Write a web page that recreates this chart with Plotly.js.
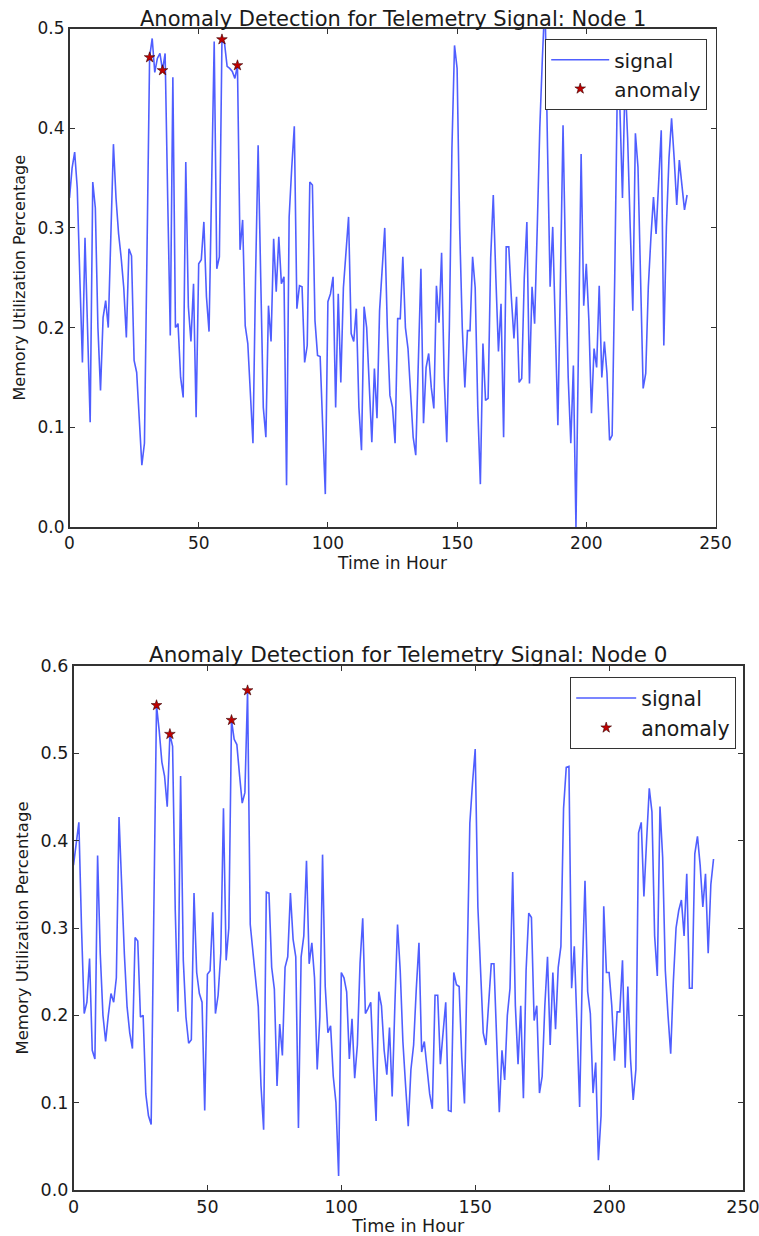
<!DOCTYPE html>
<html>
<head>
<meta charset="utf-8">
<script src="https://cdn.plot.ly/plotly-3.0.1.min.js"></script>
<style>
  html, body { margin: 0; padding: 0; background: #ffffff; }
  #chart { width: 759px; height: 1236px; }
</style>
</head>
<body>
<div id="chart"></div>
<script>
// ---------------- DATA ----------------
// Hour index of each sample (0 .. 239)
const hours = Array.from({length: 240}, (_, i) => i);

// Node 1 memory utilization
const node1Signal = [
  0.330,0.360,0.376,0.340,0.250,0.165,0.290,0.200,0.105,0.346,
  0.320,0.200,0.137,0.210,0.227,0.200,0.300,0.384,0.330,0.294,
  0.270,0.240,0.190,0.279,0.272,0.167,0.155,0.110,0.062,0.084,
  0.300,0.471,0.490,0.456,0.470,0.475,0.458,0.475,0.330,0.192,
  0.451,0.200,0.204,0.150,0.130,0.366,0.221,0.186,0.244,0.110,
  0.264,0.268,0.306,0.231,0.196,0.340,0.487,0.259,0.271,0.489,
  0.485,0.462,0.460,0.457,0.450,0.463,0.278,0.308,0.202,0.184,
  0.130,0.084,0.250,0.383,0.250,0.120,0.090,0.222,0.186,0.289,
  0.236,0.291,0.244,0.251,0.042,0.311,0.360,0.402,0.219,0.242,
  0.241,0.165,0.182,0.346,0.343,0.207,0.172,0.171,0.100,0.033,
  0.226,0.234,0.251,0.120,0.234,0.145,0.240,0.280,0.311,0.194,
  0.186,0.219,0.120,0.077,0.221,0.200,0.140,0.085,0.159,0.109,
  0.217,0.260,0.300,0.200,0.132,0.120,0.084,0.209,0.209,0.271,
  0.200,0.179,0.130,0.090,0.072,0.180,0.259,0.104,0.160,0.174,
  0.140,0.119,0.242,0.205,0.275,0.150,0.085,0.200,0.380,0.483,
  0.460,0.300,0.200,0.140,0.197,0.197,0.271,0.240,0.120,0.043,
  0.184,0.127,0.129,0.270,0.333,0.250,0.176,0.224,0.090,0.281,
  0.281,0.230,0.189,0.231,0.145,0.149,0.250,0.306,0.144,0.241,
  0.204,0.298,0.400,0.470,0.530,0.380,0.241,0.301,0.207,0.102,
  0.250,0.403,0.260,0.150,0.084,0.162,0.000,0.190,0.374,0.222,
  0.264,0.207,0.114,0.179,0.160,0.242,0.150,0.186,0.154,0.087,
  0.092,0.250,0.440,0.420,0.330,0.450,0.390,0.300,0.217,0.395,
  0.361,0.250,0.139,0.154,0.241,0.290,0.331,0.294,0.350,0.398,
  0.182,0.301,0.370,0.410,0.370,0.323,0.368,0.340,0.318,0.333
];

// Node 0 memory utilization
const node0Signal = [
  0.372,0.400,0.421,0.300,0.202,0.215,0.265,0.160,0.150,0.383,
  0.270,0.200,0.170,0.200,0.225,0.215,0.243,0.427,0.344,0.270,
  0.210,0.180,0.162,0.289,0.285,0.198,0.200,0.110,0.085,0.075,
  0.320,0.555,0.526,0.490,0.474,0.439,0.522,0.508,0.320,0.204,
  0.474,0.263,0.198,0.168,0.172,0.340,0.249,0.225,0.215,0.091,
  0.247,0.251,0.318,0.202,0.223,0.271,0.437,0.263,0.300,0.538,
  0.516,0.510,0.475,0.443,0.455,0.572,0.304,0.275,0.240,0.210,
  0.120,0.069,0.341,0.340,0.255,0.230,0.119,0.190,0.154,0.255,
  0.267,0.340,0.287,0.267,0.071,0.267,0.291,0.377,0.259,0.283,
  0.243,0.138,0.198,0.384,0.233,0.180,0.188,0.130,0.100,0.016,
  0.249,0.243,0.227,0.150,0.196,0.128,0.166,0.260,0.311,0.202,
  0.208,0.215,0.140,0.079,0.227,0.211,0.160,0.132,0.186,0.107,
  0.211,0.304,0.251,0.170,0.120,0.073,0.138,0.166,0.230,0.283,
  0.158,0.170,0.140,0.110,0.093,0.223,0.223,0.144,0.180,0.215,
  0.091,0.090,0.249,0.235,0.233,0.150,0.099,0.250,0.420,0.466,
  0.505,0.324,0.251,0.180,0.166,0.220,0.259,0.259,0.180,0.089,
  0.160,0.126,0.200,0.231,0.364,0.211,0.144,0.211,0.105,0.251,
  0.317,0.312,0.194,0.211,0.111,0.130,0.211,0.267,0.166,0.249,
  0.184,0.255,0.279,0.437,0.484,0.485,0.231,0.279,0.190,0.095,
  0.250,0.354,0.227,0.202,0.111,0.146,0.034,0.085,0.325,0.249,
  0.249,0.211,0.148,0.204,0.204,0.263,0.140,0.233,0.150,0.103,
  0.138,0.409,0.421,0.336,0.400,0.460,0.433,0.291,0.245,0.439,
  0.381,0.251,0.200,0.156,0.239,0.300,0.320,0.332,0.291,0.362,
  0.231,0.231,0.385,0.405,0.372,0.324,0.362,0.271,0.350,0.379
];

// Hours flagged as anomalies
const node1AnomalyHours = [31, 36, 59, 65];
const node0AnomalyHours = [31, 36, 59, 65];

// Titles / labels
const node1Title = "Anomaly Detection for Telemetry Signal: Node 1";
const node0Title = "Anomaly Detection for Telemetry Signal: Node 0";
const xLabel = "Time in Hour";
const yLabel = "Memory Utilization Percentage";
const signalName = "signal";
const anomalyName = "anomaly";
const xTicks = [0, 50, 100, 150, 200, 250];
const yTicksTop = [0.0, 0.1, 0.2, 0.3, 0.4, 0.5];
const yTicksBottom = [0.0, 0.1, 0.2, 0.3, 0.4, 0.5, 0.6];

// ---------------- STYLE ----------------
const W = 759, H = 1236;
const FONT = "DejaVu Sans, Liberation Sans, sans-serif";
const TXT = "#1a1a1a";
const LINE = "rgba(20,40,255,0.75)";
const STAR = "#c00000";

function px2fx(px) { return px / W; }
function px2fy(py) { return 1 - py / H; }

// plot boxes (pixels)
const topBox = {l: 69.5, r: 715.5, t: 28.5, b: 527};
const botBox = {l: 73.5, r: 743, t: 666, b: 1190};

const starMarker = {symbol: "star", size: 8, color: STAR, line: {color: "#3a0000", width: 0.6}};

const traces = [
  {x: hours, y: node1Signal, type: "scatter", mode: "lines", name: signalName,
   xaxis: "x", yaxis: "y", legend: "legend",
   line: {color: LINE, width: 1.6}},
  {x: node1AnomalyHours, y: node1AnomalyHours.map(h => node1Signal[h]), type: "scatter",
   mode: "markers", name: anomalyName, xaxis: "x", yaxis: "y", legend: "legend",
   marker: starMarker},
  {x: hours, y: node0Signal, type: "scatter", mode: "lines", name: signalName,
   xaxis: "x2", yaxis: "y2", legend: "legend2",
   line: {color: LINE, width: 1.6}},
  {x: node0AnomalyHours, y: node0AnomalyHours.map(h => node0Signal[h]), type: "scatter",
   mode: "markers", name: anomalyName, xaxis: "x2", yaxis: "y2", legend: "legend2",
   marker: starMarker}
];

function axisBase(extra) {
  return Object.assign({
    showgrid: false, zeroline: false,
    showline: true, linecolor: "#333333", linewidth: 1.6, mirror: "ticks",
    ticks: "inside", ticklen: 5, tickwidth: 1, tickcolor: "#333333",
    tickfont: {family: FONT, size: 17, color: TXT},
    ticklabeloverflow: "allow",
    fixedrange: true
  }, extra);
}

const layout = {
  width: W, height: H,
  margin: {l: 0, r: 0, t: 0, b: 0},
  paper_bgcolor: "#ffffff", plot_bgcolor: "#ffffff",
  font: {family: FONT, color: TXT},
  xaxis: axisBase({
    domain: [px2fx(topBox.l), px2fx(topBox.r)], range: [0, 250], anchor: "y",
    tickvals: xTicks, ticktext: xTicks.map(String),
    title: {text: xLabel, font: {family: FONT, size: 17, color: TXT}, standoff: 5}
  }),
  yaxis: axisBase({
    domain: [px2fy(topBox.b), px2fy(topBox.t)], range: [0, 0.5], anchor: "x",
    tickvals: yTicksTop, ticktext: yTicksTop.map(v => v.toFixed(1)),
    title: {text: yLabel, font: {family: FONT, size: 16, color: TXT}, standoff: 8}
  }),
  xaxis2: axisBase({
    domain: [px2fx(botBox.l), px2fx(botBox.r)], range: [0, 250], anchor: "y2",
    tickvals: xTicks, ticktext: xTicks.map(String),
    tickfont: {family: FONT, size: 17.5, color: TXT},
    title: {text: xLabel, font: {family: FONT, size: 17.5, color: TXT}, standoff: 4}
  }),
  yaxis2: axisBase({
    domain: [px2fy(botBox.b), px2fy(botBox.t)], range: [0, 0.6], anchor: "x2",
    tickvals: yTicksBottom, ticktext: yTicksBottom.map(v => v.toFixed(1)),
    tickfont: {family: FONT, size: 17.5, color: TXT},
    title: {text: yLabel, font: {family: FONT, size: 16.5, color: TXT}, standoff: 8}
  }),
  legend: {
    x: px2fx(707), y: px2fy(39), xanchor: "right", yanchor: "top",
    bgcolor: "#ffffff", bordercolor: "#333333", borderwidth: 1.2,
    font: {family: FONT, size: 20, color: TXT}, itemwidth: 58
  },
  legend2: {
    x: px2fx(736), y: px2fy(677), xanchor: "right", yanchor: "top",
    bgcolor: "#ffffff", bordercolor: "#333333", borderwidth: 1.2,
    font: {family: FONT, size: 20.5, color: TXT}, itemwidth: 60
  },
  annotations: [
    {text: node1Title, xref: "paper", yref: "paper",
     x: px2fx((topBox.l + topBox.r) / 2), y: px2fy(topBox.t + 5),
     xanchor: "center", yanchor: "bottom", showarrow: false,
     font: {family: FONT, size: 21, color: TXT}},
    {text: node0Title, xref: "paper", yref: "paper",
     x: px2fx((botBox.l + botBox.r) / 2), y: px2fy(botBox.t + 3),
     xanchor: "center", yanchor: "bottom", showarrow: false,
     font: {family: FONT, size: 21.5, color: TXT}}
  ],
  showlegend: true
};

Plotly.newPlot("chart", traces, layout, {displayModeBar: false, staticPlot: true});
</script>
</body>
</html>
